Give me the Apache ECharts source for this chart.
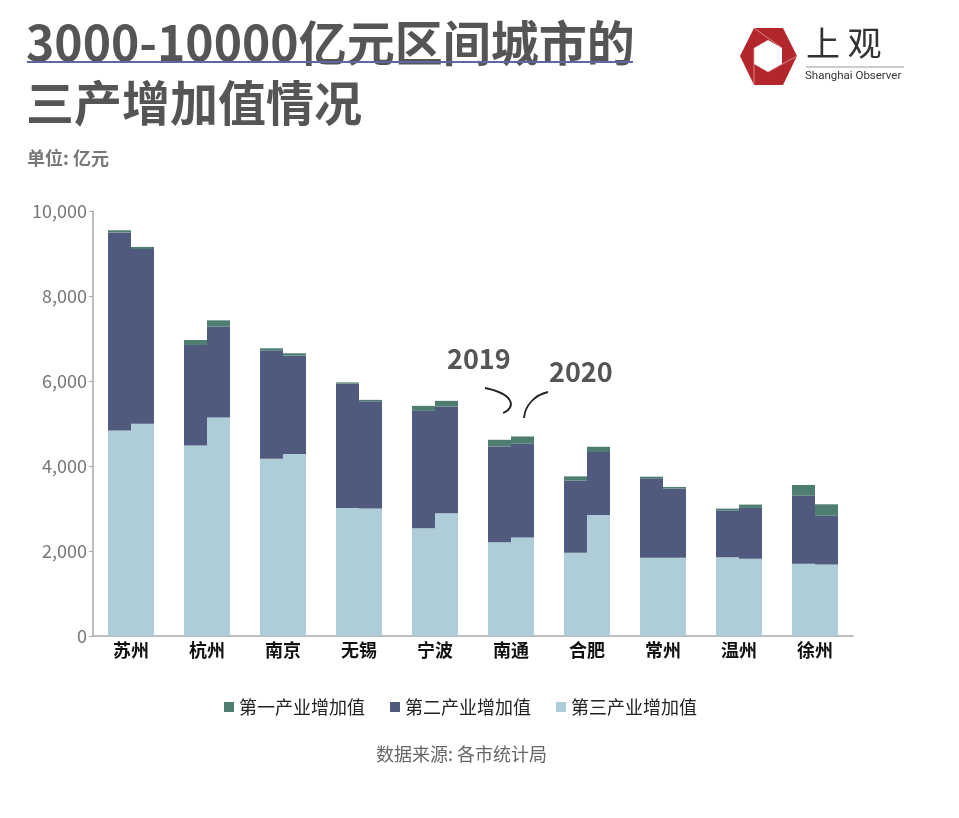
<!DOCTYPE html>
<html><head><meta charset="utf-8">
<script src="https://cdn.jsdelivr.net/npm/echarts@6/dist/echarts.min.js"></script>
<style>html,body{margin:0;padding:0;background:#fff}#c{width:959px;height:818px}</style>
</head><body><div id="c"></div>
<script>
const cities = ['苏州','杭州','南京','无锡','宁波','南通','合肥','常州','温州','徐州'];
const primary2019   = [50, 117, 55, 30, 117, 157, 102, 40, 47, 250];
const secondary2019 = [4661, 2364, 2544, 2923, 2763, 2253, 1696, 1869, 1096, 1604];
const tertiary2019  = [4836, 4484, 4171, 3014, 2535, 2207, 1958, 1840, 1855, 1700];
const primary2020   = [50, 150, 55, 30, 133, 172, 125, 40, 78, 266];
const secondary2020 = [4112, 2136, 2315, 2528, 2513, 2206, 1478, 1627, 1197, 1150];
const tertiary2020  = [4993, 5141, 4282, 2998, 2887, 2317, 2850, 1840, 1817, 1683];
const yTicks = [0, 2000, 4000, 6000, 8000, 10000];
const seriesNames = ['第一产业增加值','第二产业增加值','第三产业增加值'];

const C1 = '#4e7d71', C2 = '#4f5a7e', C3 = '#aecdd9';
const FONT = '"Noto Sans CJK SC", "Noto Sans", sans-serif';
const chart = echarts.init(document.getElementById('c'));

function bar(name, stack, data, color) {
  return { name, type: 'bar', stack, data, barWidth: 23, barGap: '0%',
    itemStyle: { color }, emphasis: { disabled: true } };
}

chart.setOption({
  animation: false,
  textStyle: { fontFamily: FONT },
  grid: { left: 93, right: 106, top: 211, bottom: 182 },
  xAxis: {
    type: 'category', data: cities,
    axisLine: { lineStyle: { color: '#a8a8a8', width: 1.5 } },
    axisTick: { alignWithLabel: true, length: 4, lineStyle: { color: '#a8a8a8' } },
    axisLabel: { color: '#111', fontSize: 18, fontWeight: 'bold', margin: 5, fontFamily: FONT }
  },
  yAxis: {
    type: 'value', min: yTicks[0], max: yTicks[yTicks.length - 1], interval: 2000,
    axisLine: { show: true, lineStyle: { color: '#a8a8a8', width: 1.5 } },
    axisTick: { show: true, length: 4, lineStyle: { color: '#a8a8a8' } },
    splitLine: { show: false },
    axisLabel: { color: '#777', fontSize: 18, margin: 6, fontFamily: FONT,
      formatter: v => v.toLocaleString('en-US') }
  },
  legend: {
    data: seriesNames, top: 693, left: 219, icon: 'rect',
    itemWidth: 10, itemHeight: 10, itemGap: 25,
    textStyle: { color: '#222', fontSize: 18, fontFamily: FONT }
  },
  series: [
    bar(seriesNames[2], 'y2019', tertiary2019, C3),
    bar(seriesNames[1], 'y2019', secondary2019, C2),
    bar(seriesNames[0], 'y2019', primary2019, C1),
    bar(seriesNames[2], 'y2020', tertiary2020, C3),
    bar(seriesNames[1], 'y2020', secondary2020, C2),
    bar(seriesNames[0], 'y2020', primary2020, C1)
  ],
  graphic: [
    { type: 'text', left: 26, top: 19, style: { text: '3000-10000亿元区间城市的', fill: '#555', font: 'bold 48px ' + FONT } },
    { type: 'line', shape: { x1: 27, y1: 62, x2: 633, y2: 62 }, style: { stroke: '#5a6aa0', lineWidth: 2 } },
    { type: 'text', left: 26, top: 79, style: { text: '三产增加值情况', fill: '#555', font: 'bold 48px ' + FONT } },
    { type: 'text', left: 27, top: 149, style: { text: '单位: 亿元', fill: '#777', font: 'bold 18px ' + FONT } },
    { type: 'text', left: 376, top: 745, style: { text: '数据来源: 各市统计局', fill: '#666', font: '18px ' + FONT } },
    { type: 'text', left: 447, top: 345, style: { text: '2019', fill: '#555', font: 'bold 27px ' + FONT } },
    { type: 'text', left: 549, top: 358, style: { text: '2020', fill: '#555', font: 'bold 27px ' + FONT } },
    { type: 'bezierCurve', shape: { x1: 485, y1: 388, cpx1: 515, cpy1: 394, cpx2: 516, cpy2: 408, x2: 503, y2: 413 },
      style: { stroke: '#222', lineWidth: 1.8, fill: null } },
    { type: 'bezierCurve', shape: { x1: 548, y1: 392, cpx1: 535, cpy1: 395, cpx2: 525, cpy2: 405, x2: 524, y2: 418 },
      style: { stroke: '#222', lineWidth: 1.8, fill: null } },
    { type: 'polygon', shape: { points: [[740,56],[754,28],[783,28],[797,56],[783,85],[754,85]] }, style: { fill: '#b3272c' } },
    { type: 'polygon', shape: { points: [[768,40],[782,48],[782,64],[768,72],[754,64],[754,48]] }, style: { fill: '#fff' } },
    { type: 'line', shape: { x1: 754, y1: 28, x2: 782, y2: 48 }, style: { stroke: '#e8a0a0', lineWidth: 0.8 } },
    { type: 'line', shape: { x1: 797, y1: 56, x2: 768, y2: 72 }, style: { stroke: '#e8a0a0', lineWidth: 0.8 } },
    { type: 'line', shape: { x1: 754, y1: 85, x2: 754, y2: 48 }, style: { stroke: '#e8a0a0', lineWidth: 0.8 } },
    { type: 'text', left: 806, top: 26, style: { text: '上 观', fill: '#333', font: '34px ' + FONT } },
    { type: 'line', shape: { x1: 806, y1: 67, x2: 904, y2: 67 }, style: { stroke: '#bbb', lineWidth: 1.5 } },
    { type: 'text', left: 805, top: 70, style: { text: 'Shanghai Observer', fill: '#333', font: '11.5px "Liberation Sans Narrow", "Roboto", sans-serif' } }
  ]
});
</script></body></html>
